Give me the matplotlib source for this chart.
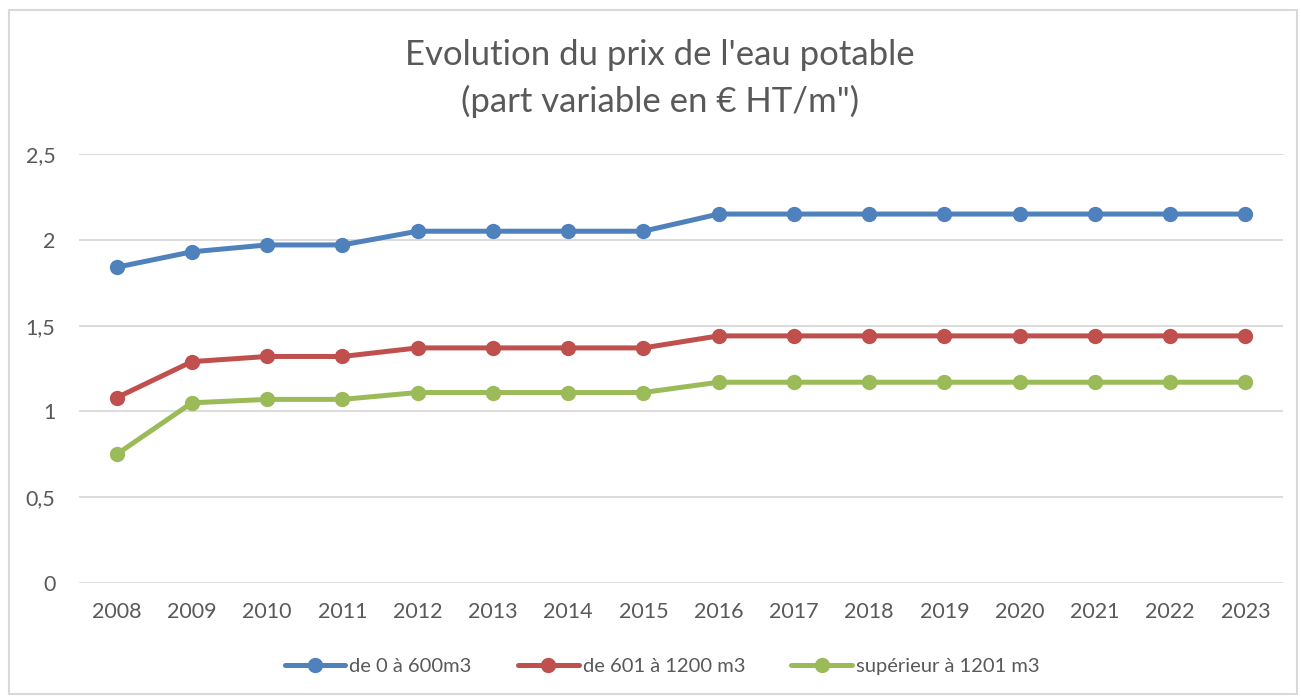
import matplotlib
matplotlib.use("Agg")
import matplotlib.pyplot as plt
from matplotlib.patches import Rectangle

# données
annees = ["2008", "2009", "2010", "2011", "2012", "2013", "2014", "2015",
          "2016", "2017", "2018", "2019", "2020", "2021", "2022", "2023"]
tranche_0_600 = [1.84, 1.93, 1.97, 1.97, 2.05, 2.05, 2.05, 2.05,
                 2.15, 2.15, 2.15, 2.15, 2.15, 2.15, 2.15, 2.15]
tranche_601_1200 = [1.08, 1.29, 1.32, 1.32, 1.37, 1.37, 1.37, 1.37,
                    1.44, 1.44, 1.44, 1.44, 1.44, 1.44, 1.44, 1.44]
tranche_1201 = [0.75, 1.05, 1.07, 1.07, 1.11, 1.11, 1.11, 1.11,
                1.17, 1.17, 1.17, 1.17, 1.17, 1.17, 1.17, 1.17]
noms = ["de 0 à 600m3", "de 601 à 1200 m3", "supérieur à 1201 m3"]
couleurs = ["#4F81BD", "#C0504D", "#9BBB59"]
y_ticks = [0, 0.5, 1, 1.5, 2, 2.5]
y_labels = ["0", "0,5", "1", "1,5", "2", "2,5"]

plt.rcParams['font.family'] = ['Lato', 'DejaVu Sans']
gris = "#595959"

fig = plt.figure(figsize=(13.01, 6.98), dpi=100)
ax = fig.add_axes([79 / 1301, 115 / 698, 1204 / 1301, 429 / 698])

# cadre gris autour du graphique
fig.patches.append(Rectangle((9 / 1301, 4 / 698), 1288 / 1301, 684 / 698,
                             transform=fig.transFigure, fill=False,
                             edgecolor="#D9D9D9", linewidth=1.5))

x = list(range(len(annees)))
for serie, nom, c in zip([tranche_0_600, tranche_601_1200, tranche_1201], noms, couleurs):
    ax.plot(x, serie, color=c, linewidth=3.6, marker="o", markersize=10,
            label=nom, solid_capstyle="round", zorder=3)

ax.set_xlim(-0.5, len(annees) - 0.5)
ax.set_ylim(0, 2.5)
ax.set_xticks(x)
ax.set_xticklabels(annees)
ax.set_yticks(y_ticks)
ax.set_yticklabels(y_labels)
ax.tick_params(length=0, labelsize=15.5, colors=gris, pad=14)
ax.tick_params(axis="y", pad=17)
ax.grid(axis="y", color="#D9D9D9", linewidth=1.3)
ax.set_axisbelow(True)
for s in ax.spines.values():
    s.set_visible(False)

fig.text(0.507, 1 - 55 / 698, "Evolution du prix de l'eau potable",
         ha="center", va="center", fontsize=25, color=gris)
fig.text(0.507, 1 - 101 / 698, "(part variable en € HT/m\")",
         ha="center", va="center", fontsize=25, color=gris)

fig.legend(loc="center", bbox_to_anchor=(0.509, 1 - 666 / 698), ncol=3,
           frameon=False, fontsize=14.5, labelcolor=gris, handlelength=3.0,
           handletextpad=0.2, columnspacing=2.3)

fig.savefig("out.png", dpi=100)
